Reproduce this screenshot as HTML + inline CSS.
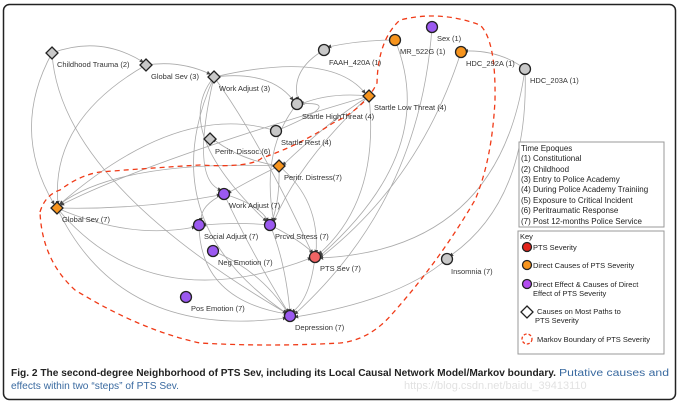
<!DOCTYPE html>
<html><head><meta charset="utf-8"><style>
body{margin:0;background:#fff;width:679px;height:404px;overflow:hidden;font-family:"Liberation Sans",sans-serif}
</style></head><body>
<svg width="679" height="404" xmlns="http://www.w3.org/2000/svg" font-family="Liberation Sans, sans-serif">
<defs><marker id="a" markerWidth="5" markerHeight="5" refX="4" refY="2.5" orient="auto"><path d="M0,0L5,2.5L0,5z" fill="#444"/></marker></defs>
<rect x="3.5" y="4.5" width="672" height="395" rx="6" fill="#fff" stroke="#222" stroke-width="1.5"/>
<g fill="none" stroke="#aaa" stroke-width="0.8" marker-end="url(#a)">
<path d="M52,53 Q100,35 143,62"/>
<path d="M146,65 Q180,60 210,74"/>
<path d="M214,77 Q270,70 293,100"/>
<path d="M52,53 Q10,130 54,204"/>
<path d="M52,53 Q60,180 286,313"/>
<path d="M146,65 Q50,120 58,204"/>
<path d="M214,77 Q150,220 286,313"/>
<path d="M214,77 Q190,180 221,190"/>
<path d="M214,77 Q260,140 312,253"/>
<path d="M214,77 Q170,130 266,221"/>
<path d="M214,77 Q330,50 365,93"/>
<path d="M369,96 Q330,92 301,104"/>
<path d="M369,96 Q330,120 283,165"/>
<path d="M369,96 Q300,160 274,221"/>
<path d="M369,96 Q380,200 319,254"/>
<path d="M369,96 Q150,160 61,205"/>
<path d="M276,131 Q180,100 60,204"/>
<path d="M297,104 Q260,150 274,222"/>
<path d="M297,104 Q350,100 276,131"/>
<path d="M279,166 Q240,160 213,139"/>
<path d="M279,166 Q250,180 228,193"/>
<path d="M279,166 Q280,200 272,221"/>
<path d="M279,166 Q320,200 316,253"/>
<path d="M279,166 Q120,160 60,204"/>
<path d="M324,50 Q290,70 298,100"/>
<path d="M395,40 Q360,40 328,47"/>
<path d="M395,40 Q440,150 320,256"/>
<path d="M432,27 Q420,200 295,314"/>
<path d="M461,52 Q420,180 320,258"/>
<path d="M525,69 Q500,50 465,51"/>
<path d="M525,69 Q530,200 450,256"/>
<path d="M525,69 Q500,250 320,258"/>
<path d="M447,259 Q400,300 295,317"/>
<path d="M57,208 Q140,210 220,195"/>
<path d="M57,208 Q130,240 195,227"/>
<path d="M57,208 Q150,320 311,258"/>
<path d="M57,208 Q120,340 286,318"/>
<path d="M224,194 Q200,205 201,221"/>
<path d="M224,194 Q260,205 268,221"/>
<path d="M224,194 Q250,250 288,312"/>
<path d="M270,225 Q240,222 203,225"/>
<path d="M270,225 Q300,240 313,253"/>
<path d="M270,225 Q285,260 290,312"/>
<path d="M199,225 Q200,300 287,314"/>
<path d="M213,251 Q260,270 288,313"/>
<path d="M315,257 Q310,300 292,312"/>
</g>
<path d="M40,212 Q45,195 60,190 Q80,175 100,172 Q150,168 200,165 Q250,168 262,158 Q300,145 333,123 Q365,108 377,83 Q378,40 400,20 Q440,10 480,25 Q496,40 495,100 Q492,160 475,200 Q440,260 393,313 Q370,340 340,343 Q270,347 200,343 Q140,330 75,290 Q42,260 40,212z" fill="none" stroke="#f03a17" stroke-width="1.3" stroke-dasharray="5,4"/>
<g stroke="#222" stroke-width="1.3">
<g fill="#c8c8c8">
<path d="M52,47l6,6l-6,6l-6,-6z"/><path d="M146,59l6,6l-6,6l-6,-6z"/><path d="M214,71l6,6l-6,6l-6,-6z"/><path d="M210,133l6,6l-6,6l-6,-6z"/>
<circle cx="297" cy="104" r="5.5"/><circle cx="276" cy="131" r="5.5"/><circle cx="324" cy="50" r="5.5"/><circle cx="525" cy="69" r="5.5"/><circle cx="447" cy="259" r="5.5"/>
</g>
<g fill="#f7941d">
<path d="M279,160l6,6l-6,6l-6,-6z"/><path d="M369,90l6,6l-6,6l-6,-6z"/><path d="M57,202l6,6l-6,6l-6,-6z"/>
<circle cx="395" cy="40" r="5.5"/><circle cx="461" cy="52" r="5.5"/>
</g>
<g fill="#9b59f0">
<circle cx="432" cy="27" r="5.5"/><circle cx="224" cy="194" r="5.5"/><circle cx="199" cy="225" r="5.5"/><circle cx="270" cy="225" r="5.5"/><circle cx="213" cy="251" r="5.5"/><circle cx="186" cy="297" r="5.5"/><circle cx="290" cy="316" r="5.5"/>
</g>
<circle cx="315" cy="257" r="5.5" fill="#f06464"/>
</g>
<g font-size="7.5" fill="#333">
<text x="57" y="67">Childhood Trauma (2)</text><text x="151" y="79">Global Sev (3)</text><text x="219" y="91">Work Adjust (3)</text>
<text x="302" y="119">Startle HighThreat (4)</text><text x="281" y="145">Startle Rest (4)</text><text x="215" y="154">Peritr. Dissoc.(6)</text>
<text x="284" y="180">Peritr. Distress(7)</text><text x="329" y="65">FAAH_420A (1)</text><text x="400" y="54">MR_522G (1)</text>
<text x="437" y="41">Sex (1)</text><text x="466" y="66">HDC_292A (1)</text><text x="530" y="83">HDC_203A (1)</text>
<text x="374" y="110">Startle Low Threat (4)</text><text x="229" y="208">Work Adjust (7)</text><text x="62" y="222">Global Sev (7)</text>
<text x="204" y="239">Social Adjust (7)</text><text x="275" y="239">Prcvd Stress (7)</text><text x="218" y="265">Neg Emotion (7)</text>
<text x="320" y="271">PTS Sev (7)</text><text x="451" y="274">Insomnia (7)</text><text x="191" y="311">Pos Emotion (7)</text><text x="295" y="330">Depression (7)</text>
</g>
<rect x="519" y="142" width="145" height="85" fill="#fff" stroke="#999"/>
<g font-size="8" fill="#222"><text x="521" y="151">Time Epoques</text><text x="521" y="161">(1) Constitutional</text><text x="521" y="172">(2) Childhood</text><text x="521" y="182">(3) Entry to Police Academy</text><text x="521" y="192">(4) During Police Academy Trainiing</text><text x="521" y="203">(5) Exposure to Critical Incident</text><text x="521" y="213">(6) Peritraumatic Response</text><text x="521" y="224">(7) Post 12-months Police Service</text></g>
<rect x="518" y="231" width="146" height="123" fill="#fff" stroke="#999"/>
<g font-size="7.5" fill="#222"><text x="520" y="239">Key</text>
<circle cx="527" cy="247" r="4.5" fill="#e2231a" stroke="#222" stroke-width="1.3"/><text x="533" y="250">PTS Severity</text>
<circle cx="527" cy="265" r="4.5" fill="#f7941d" stroke="#222" stroke-width="1.3"/><text x="533" y="268">Direct Causes of PTS Severity</text>
<circle cx="527" cy="284" r="4.5" fill="#b34cf0" stroke="#222" stroke-width="1.3"/><text x="533" y="287">Direct Effect &amp; Causes of Direct</text><text x="533" y="296">Effect of PTS Severity</text>
<path d="M527,306l6,6l-6,6l-6,-6z" fill="#fff" stroke="#222" stroke-width="1.3"/><text x="537" y="314">Causes on Most Paths to</text><text x="535" y="323">PTS Severity</text>
<circle cx="527" cy="339" r="5" fill="none" stroke="#f03a17" stroke-width="1.3" stroke-dasharray="3,2"/><text x="537" y="342">Markov Boundary of PTS Severity</text></g>
<text x="11" y="376" font-size="10" font-weight="bold" fill="#222" textLength="545" lengthAdjust="spacingAndGlyphs">Fig. 2 The second-degree Neighborhood of PTS Sev, including its Local Causal Network Model/Markov boundary.</text>
<text x="559" y="376" font-size="10" fill="#3a6aa0" textLength="110" lengthAdjust="spacingAndGlyphs">Putative causes and</text>
<text x="11" y="389" font-size="10" fill="#3a6aa0" textLength="168" lengthAdjust="spacingAndGlyphs">effects within two “steps” of PTS Sev.</text>
<text x="404" y="389" font-size="11" fill="#e2e2e2">https://blog.csdn.net/baidu_39413110</text>
</svg>
</body></html>
